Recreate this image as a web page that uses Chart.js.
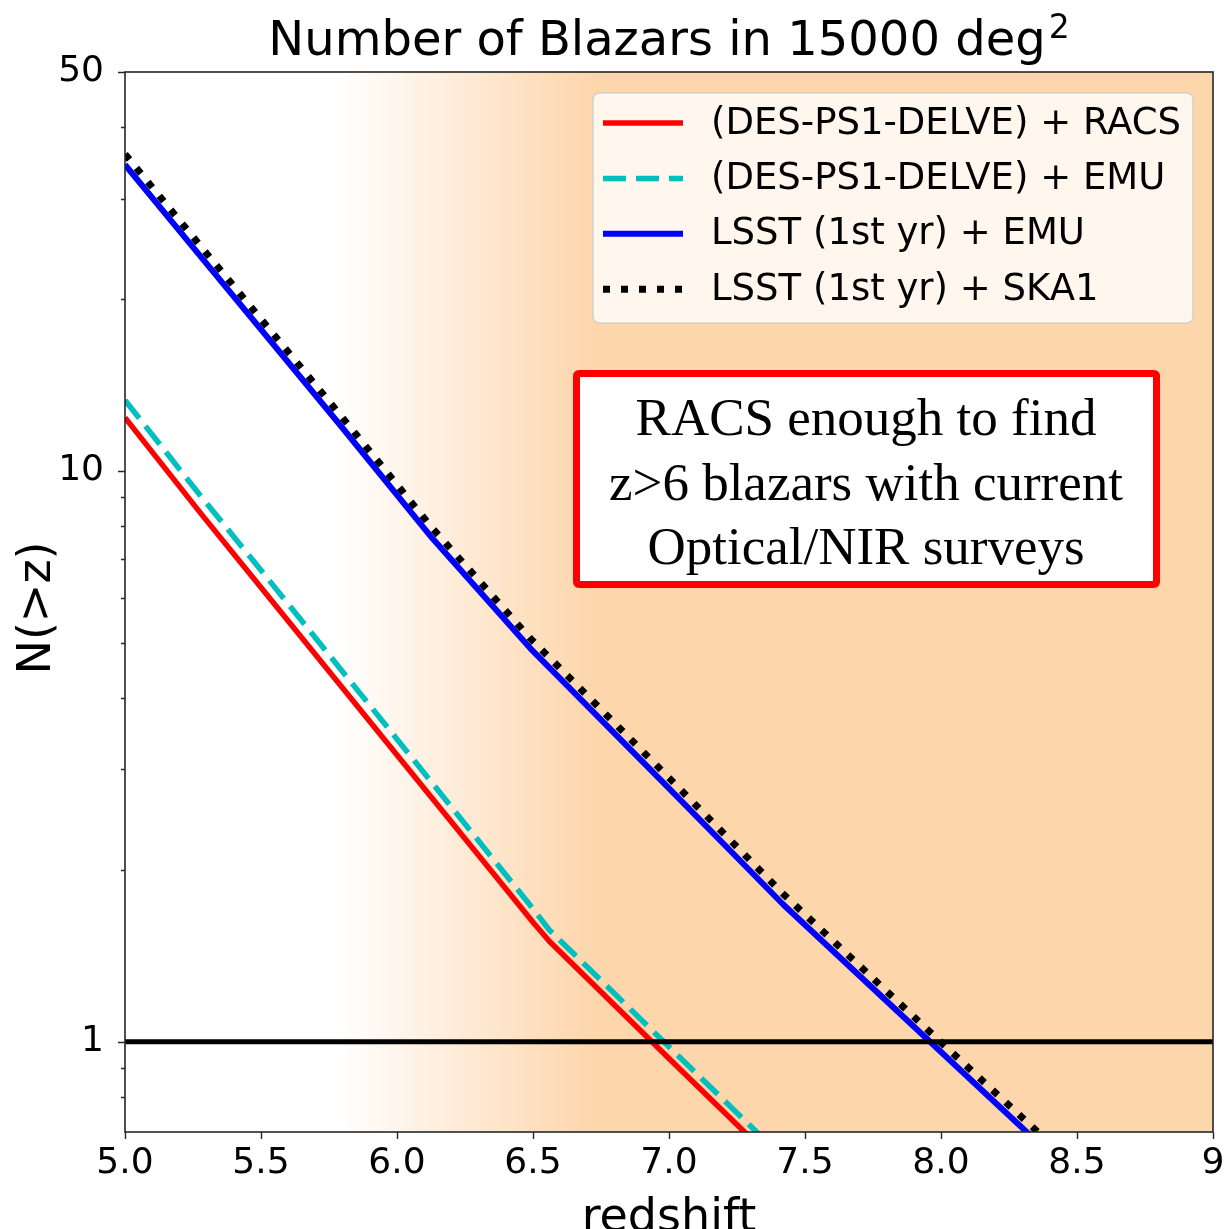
<!DOCTYPE html>
<html>
<head>
<meta charset="utf-8">
<script src="https://cdn.jsdelivr.net/npm/chart.js@4.4.1/dist/chart.umd.min.js"></script>
<style>
html,body{margin:0;padding:0;background:#ffffff;}
#wrap{width:1226px;height:1229px;position:relative;}
canvas{display:block;}
</style>
</head>
<body>
<div id="wrap"><canvas id="c" width="1226" height="1229"></canvas></div>
<script>
// ---- data ----
const chartTitle = 'Number of Blazars in 15000 deg';
const chartTitleSup = '2';
const xAxisTitle = 'redshift';
const yAxisTitle = 'N(>z)';

const seriesLabels = [
  '(DES-PS1-DELVE) + RACS',
  '(DES-PS1-DELVE) + EMU',
  'LSST (1st yr) + EMU',
  'LSST (1st yr) + SKA1'
];

const zDES = [5.0, 5.28, 5.5, 6.0, 6.5, 6.56, 7.0, 7.5];
const nDES_RACS = [12.4, 8.41, 6.25, 3.18, 1.62, 1.50, 0.935, 0.548];
const nDES_EMU  = [13.3, 9.02, 6.70, 3.39, 1.71, 1.57, 0.98, 0.575];

const zLSST = [5.0, 5.28, 5.79, 6.13, 6.49, 7.0, 7.42, 7.96, 8.5];
const nLSST_EMU  = [34.4, 23.7, 12.05, 7.62, 4.89, 2.78, 1.74, 1.00, 0.575];
const nLSST_SKA1 = [35.9, 24.7, 12.56, 7.94, 5.09, 2.90, 1.815, 1.04, 0.60];

const refLineZ = [5.0, 9.0];
const refLineN = [1, 1];

const xTickValues = [5.0, 5.5, 6.0, 6.5, 7.0, 7.5, 8.0, 8.5, 9.0];
const xTickLabels = ['5.0', '5.5', '6.0', '6.5', '7.0', '7.5', '8.0', '8.5', '9'];
const yMajorValues = [1, 10, 50];
const yMajorLabels = ['1', '10', '50'];
const yMinorValues = [0.8, 0.9, 2, 3, 4, 5, 6, 7, 8, 9, 20, 30, 40];

const annotationLines = ['RACS enough to find', 'z>6 blazars with current', 'Optical/NIR surveys'];

const xMin = 5, xMax = 9, yMin = 0.695, yMax = 50;
const shadeStart = 5.78, shadeEnd = 6.72;

// ---- helpers ----
const zip = (xs, ys) => xs.map((x, i) => ({x: x, y: ys[i]}));
const SANS = "'DejaVu Sans', Verdana, sans-serif";
const SERIF = "'Liberation Serif', 'Times New Roman', serif";
const SHADE = [253, 214, 172];

const styles = [
  {color: '#ff0000', width: 5.5, dash: []},
  {color: '#00bfbf', width: 5.5, dash: [23, 10]},
  {color: '#0000ff', width: 6, dash: []},
  {color: '#000000', width: 7, dash: [7, 11]}
];

function roundRect(ctx, x, y, w, h, r) {
  ctx.beginPath();
  ctx.moveTo(x + r, y);
  ctx.lineTo(x + w - r, y);
  ctx.quadraticCurveTo(x + w, y, x + w, y + r);
  ctx.lineTo(x + w, y + h - r);
  ctx.quadraticCurveTo(x + w, y + h, x + w - r, y + h);
  ctx.lineTo(x + r, y + h);
  ctx.quadraticCurveTo(x, y + h, x, y + h - r);
  ctx.lineTo(x, y + r);
  ctx.quadraticCurveTo(x, y, x + r, y);
  ctx.closePath();
}

const decor = {
  id: 'decor',
  beforeDatasetsDraw(chart) {
    const {ctx, chartArea: a, scales: {x}} = chart;
    const x0 = x.getPixelForValue(shadeStart), x1 = x.getPixelForValue(shadeEnd);
    const g = ctx.createLinearGradient(x0, 0, x1, 0);
    g.addColorStop(0, `rgba(${SHADE[0]},${SHADE[1]},${SHADE[2]},0)`);
    g.addColorStop(1, `rgba(${SHADE[0]},${SHADE[1]},${SHADE[2]},1)`);
    ctx.save();
    ctx.fillStyle = '#ffffff';
    ctx.fillRect(a.left, a.top, a.width, a.height);
    ctx.fillStyle = g;
    ctx.fillRect(a.left, a.top, a.width, a.height);
    ctx.restore();
  },
  afterDatasetsDraw(chart) {
    const {ctx, chartArea: a, scales: {x, y}} = chart;
    ctx.save();
    // frame
    ctx.strokeStyle = '#262626';
    ctx.lineWidth = 1.6;
    ctx.strokeRect(a.left, a.top, a.right - a.left, a.bottom - a.top);
    // tick marks
    ctx.beginPath();
    xTickValues.forEach(v => {
      const px = Math.round(x.getPixelForValue(v)) + 0.5;
      ctx.moveTo(px, a.bottom); ctx.lineTo(px, a.bottom + 7);
    });
    yMajorValues.forEach(v => {
      const py = Math.round(y.getPixelForValue(v)) + 0.5;
      ctx.moveTo(a.left, py); ctx.lineTo(a.left - 7, py);
    });
    yMinorValues.forEach(v => {
      const py = Math.round(y.getPixelForValue(v)) + 0.5;
      ctx.moveTo(a.left, py); ctx.lineTo(a.left - 4, py);
    });
    ctx.lineWidth = 1.4;
    ctx.stroke();

    // title with superscript
    ctx.fillStyle = '#000';
    ctx.textBaseline = 'alphabetic';
    ctx.textAlign = 'left';
    ctx.font = '48px ' + SANS;
    const w1 = ctx.measureText(chartTitle).width;
    ctx.font = '33px ' + SANS;
    const w2 = ctx.measureText(chartTitleSup).width;
    const cx = (a.left + a.right) / 2;
    const tx = cx - (w1 + w2 + 3) / 2;
    ctx.font = '48px ' + SANS;
    ctx.fillText(chartTitle, tx, 55);
    ctx.font = '33px ' + SANS;
    ctx.fillText(chartTitleSup, tx + w1 + 3, 38);

    // axis titles
    ctx.font = '46px ' + SANS;
    ctx.textAlign = 'center';
    ctx.fillText(xAxisTitle, cx, 1231);
    ctx.save();
    ctx.translate(50, (a.top + a.bottom) / 2 + 6);
    ctx.rotate(-Math.PI / 2);
    ctx.fillText(yAxisTitle, 0, 0);
    ctx.restore();

    // legend
    const lx = 593, ly = 93, lw = 600, lh = 230;
    roundRect(ctx, lx, ly, lw, lh, 7);
    ctx.fillStyle = 'rgba(255,255,255,0.8)';
    ctx.fill();
    ctx.strokeStyle = 'rgba(204,204,204,0.8)';
    ctx.lineWidth = 1.5;
    ctx.stroke();
    ctx.font = '37px ' + SANS;
    ctx.textAlign = 'left';
    ctx.textBaseline = 'middle';
    seriesLabels.forEach((lab, i) => {
      const yy = 123 + i * 55.4;
      const st = styles[i];
      ctx.beginPath();
      ctx.setLineDash(st.dash);
      ctx.lineCap = 'butt';
      ctx.strokeStyle = st.color;
      ctx.lineWidth = st.width;
      ctx.moveTo(603, yy); ctx.lineTo(683, yy);
      ctx.stroke();
      ctx.setLineDash([]);
      ctx.fillStyle = '#000';
      ctx.fillText(lab, 711, yy + 1);
    });

    // annotation box
    ctx.beginPath();
    roundRect(ctx, 576.5, 373.5, 580, 211, 3);
    ctx.fillStyle = '#ffffff';
    ctx.fill();
    ctx.strokeStyle = '#ff0000';
    ctx.lineWidth = 7;
    ctx.stroke();
    ctx.fillStyle = '#000';
    ctx.font = '53px ' + SERIF;
    ctx.textAlign = 'center';
    ctx.textBaseline = 'alphabetic';
    annotationLines.forEach((t, i) => {
      ctx.fillText(t, 866, 435 + i * 64.5);
    });
    ctx.restore();
  }
};

const tickFont = {family: SANS, size: 36};

new Chart(document.getElementById('c').getContext('2d'), {
  type: 'line',
  data: {
    datasets: [
      {label: 'N=1', data: zip(refLineZ, refLineN), borderColor: '#000000', borderWidth: 5, order: 0, clip: 0},
      {label: seriesLabels[3], data: zip(zLSST, nLSST_SKA1), borderColor: styles[3].color, borderWidth: styles[3].width, borderDash: styles[3].dash, order: 1, clip: 0},
      {label: seriesLabels[2], data: zip(zLSST, nLSST_EMU), borderColor: styles[2].color, borderWidth: styles[2].width, order: 2, clip: 0},
      {label: seriesLabels[1], data: zip(zDES, nDES_EMU), borderColor: styles[1].color, borderWidth: styles[1].width, borderDash: styles[1].dash, order: 3, clip: 0},
      {label: seriesLabels[0], data: zip(zDES, nDES_RACS), borderColor: styles[0].color, borderWidth: styles[0].width, order: 4, clip: 0}
    ]
  },
  options: {
    responsive: false,
    animation: false,
    devicePixelRatio: 1,
    layout: {padding: {top: 72, right: 13, left: 0, bottom: 0}},
    elements: {
      point: {radius: 0, hoverRadius: 0},
      line: {tension: 0, borderCapStyle: 'butt', borderJoinStyle: 'round', fill: false}
    },
    plugins: {legend: {display: false}, tooltip: {enabled: false}, title: {display: false}},
    events: [],
    scales: {
      x: {
        type: 'linear', min: xMin, max: xMax,
        afterBuildTicks: s => { s.ticks = xTickValues.map(v => ({value: v})); },
        afterFit: s => { s.height = 97; s.paddingLeft = 0; s.paddingRight = 0; },
        ticks: {callback: (v, i) => xTickLabels[i], font: tickFont, color: '#000', padding: 2, maxRotation: 0, minRotation: 0, autoSkip: false},
        grid: {display: false},
        border: {display: false}
      },
      y: {
        type: 'logarithmic', min: yMin, max: yMax,
        afterBuildTicks: s => { s.ticks = yMajorValues.map(v => ({value: v})); },
        afterFit: s => { s.width = 125; s.paddingTop = 0; s.paddingBottom = 0; },
        ticks: {callback: (v, i) => yMajorLabels[i], font: tickFont, color: '#000', padding: 13, autoSkip: false},
        grid: {display: false},
        border: {display: false}
      }
    }
  },
  plugins: [decor]
});
</script>
</body>
</html>
